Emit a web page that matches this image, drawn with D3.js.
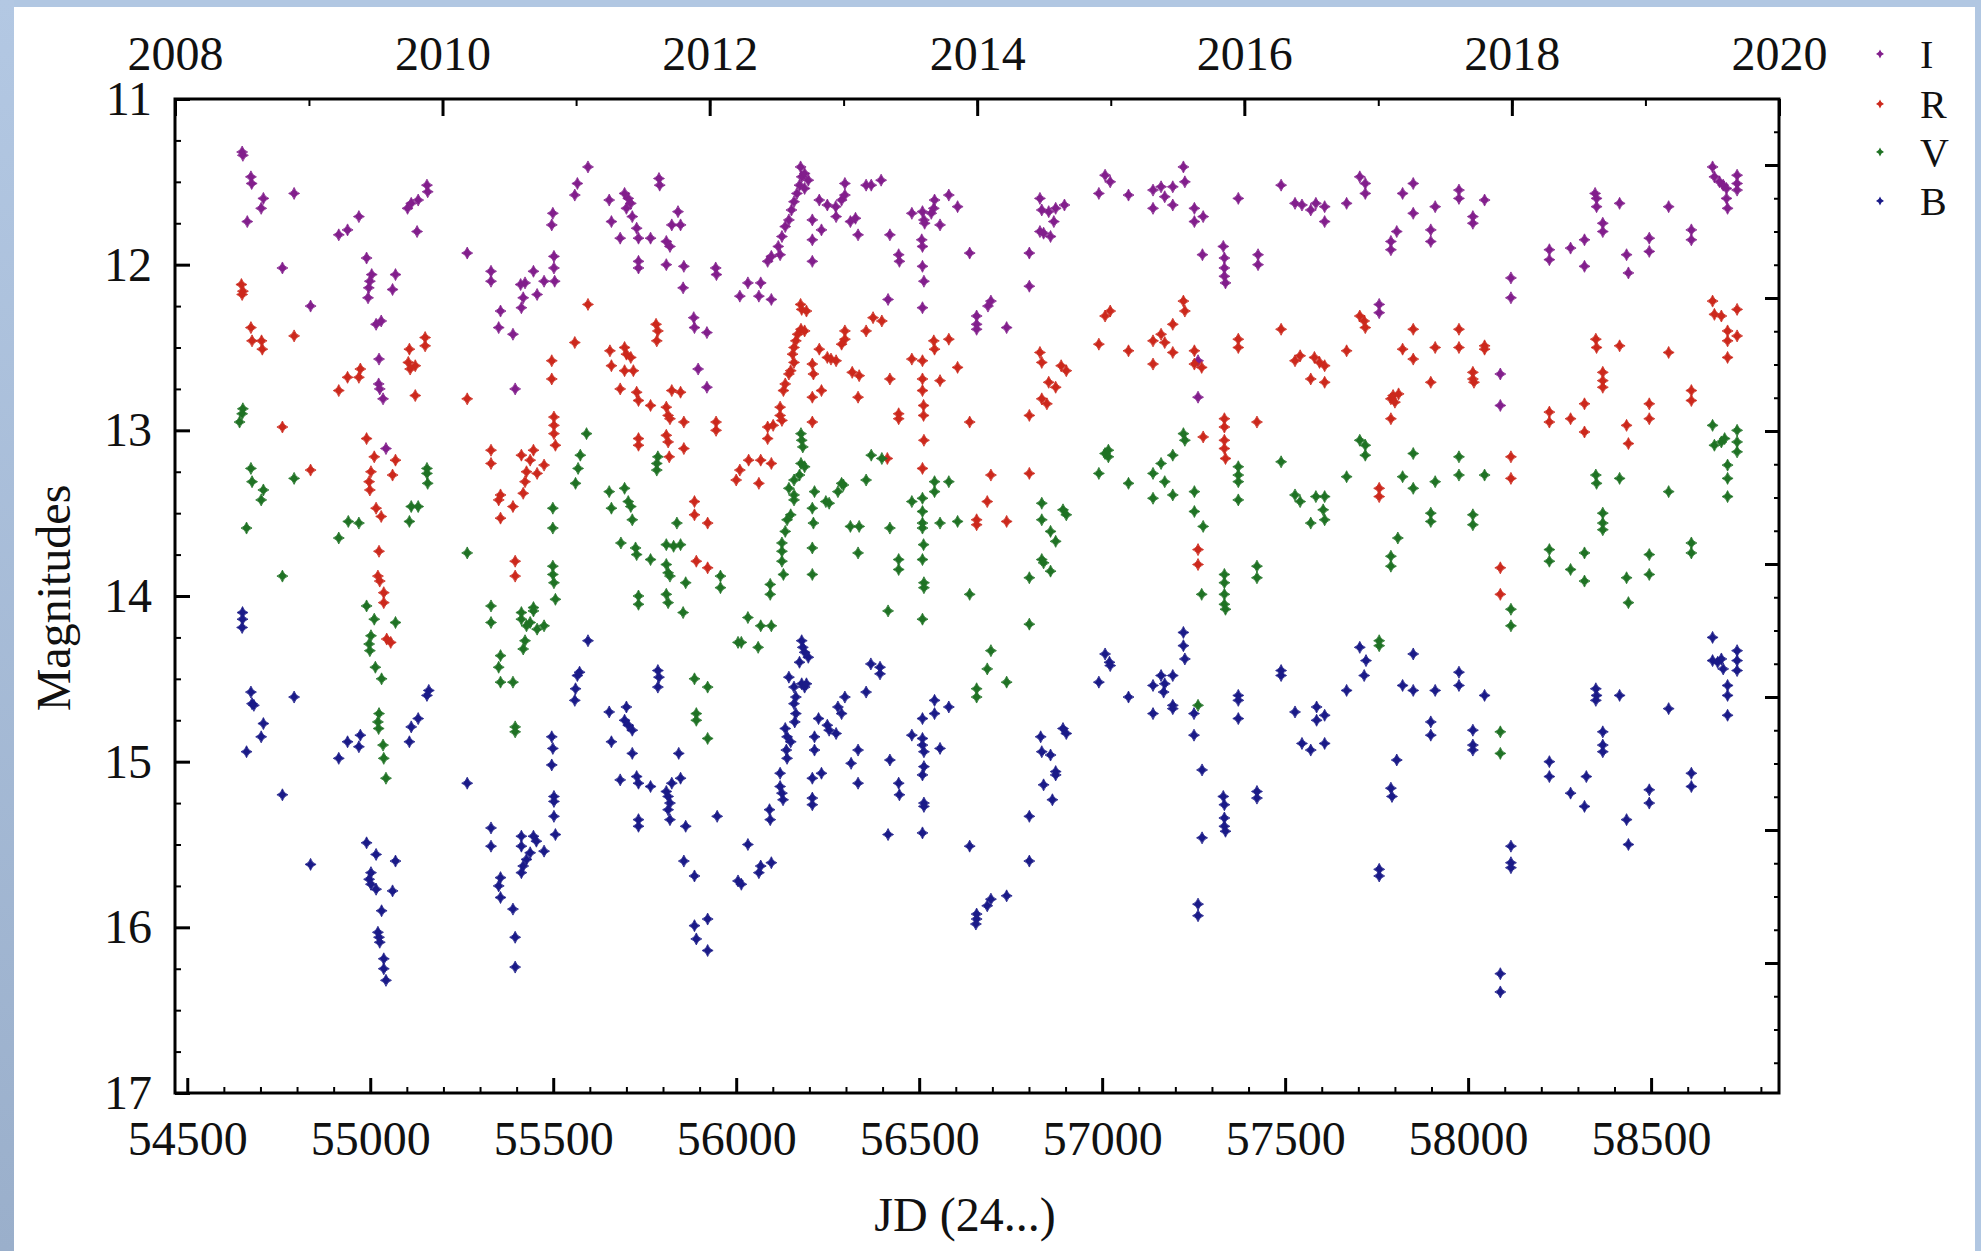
<!DOCTYPE html>
<html>
<head>
<meta charset="utf-8">
<script src="https://cdn.jsdelivr.net/npm/d3@7/dist/d3.min.js"></script>
<style>
  body { margin: 0; background: #b1c7e2; }
  svg { display: block; }
  text { font-family: "Liberation Serif", "DejaVu Serif", serif; fill: #111; }
</style>
</head>
<body>
<svg id="chart" width="1981" height="1251"></svg>
<script>
// Light curves, JD - 2400000 against magnitude, one array of [jd, mag] per band

var bandI = [
  [54650,11.32],[54652,11.34],[54674,11.47],[54676,11.51],[54708,11.60],[54702,11.66],[54664,11.74],[54792,11.57],[54760,12.02],[54837,12.25],
  [54914,11.82],[54938,11.79],[54969,11.71],[54990,11.96],[55004,12.06],[54999,12.10],[54996,12.14],[54994,12.20],[55069,12.06],[55061,12.15],
  [55016,12.36],[55030,12.34],[55024,12.57],[55023,12.72],[55026,12.75],[55035,12.81],[55043,13.11],
  [55102,11.66],[55112,11.63],[55131,11.61],[55157,11.56],[55155,11.52],[55128,11.80],[55265,11.93],[55330,12.04],[55330,12.10],
  [55356,12.28],[55351,12.38],[55390,12.42],[55396,12.75],
  [55411,12.12],[55423,12.11],[55446,12.04],[55418,12.20],[55413,12.26],[55456,12.18],[55475,12.10],[55504,12.10],
  [55499,11.69],[55496,11.76],[55502,11.95],[55502,12.02],[55559,11.58],[55566,11.51],[55595,11.41],
  [55653,11.61],[55659,11.74],[55695,11.57],[55705,11.60],[55712,11.63],[55700,11.66],
  [55683,11.84],[55716,11.71],[55728,11.78],[55733,11.84],[55733,11.98],[55733,12.02],[55766,11.84],
  [55789,11.48],[55791,11.52],[55809,11.86],[55819,11.89],[55809,12.00],[55824,11.76],[55848,11.76],[55841,11.68],
  [55857,12.01],[55855,12.14],[55884,12.32],[55886,12.38],[55920,12.41],[55896,12.63],[55920,12.74],[55944,12.02],[55946,12.06],
  [56032,12.11],[56067,12.11],[56010,12.19],[56062,12.19],[56096,12.21],
  [56086,11.98],[56096,11.95],[56120,11.94],[56115,11.89],[56125,11.83],[56134,11.77],[56144,11.73],[56151,11.67],[56158,11.62],
  [56166,11.57],[56173,11.52],[56179,11.47],[56176,11.41],[56187,11.45],[56197,11.49],[56187,11.54],
  [56208,11.73],[56208,11.85],[56208,11.98],[56233,11.79],[56227,11.61],[56249,11.64],[56272,11.65],[56273,11.71],[56288,11.61],
  [56297,11.51],[56297,11.58],[56312,11.74],[56326,11.72],[56333,11.82],[56355,11.52],[56369,11.52],[56396,11.49],
  [56420,11.82],[56444,11.94],[56446,11.98],[56415,12.21],
  [56480,11.69],[56509,11.68],[56513,11.73],[56515,11.75],[56542,11.61],[56540,11.66],[56533,11.69],[56557,11.76],[56581,11.58],[56605,11.65],
  [56507,11.85],[56509,11.89],[56509,12.01],[56513,12.10],[56509,12.26],
  [56638,11.93],[56657,12.31],[56657,12.36],[56657,12.39],[56688,12.25],[56696,12.22],[56739,12.38],[56801,11.93],[56801,12.13],
  [56830,11.60],[56835,11.67],[56854,11.68],[56873,11.66],[56897,11.64],[56868,11.74],[56830,11.80],[56840,11.81],[56859,11.83],
  [56991,11.57],[57008,11.46],[57022,11.50],[57072,11.58],
  [57139,11.55],[57139,11.66],[57161,11.53],[57171,11.59],[57193,11.53],[57193,11.64],[57222,11.41],[57226,11.50],[57252,11.66],
  [57252,11.74],[57276,11.71],[57274,11.94],[57331,11.89],[57334,11.96],[57334,12.02],[57334,12.07],[57337,12.11],[57372,11.60],
  [57262,12.80],[57262,12.58],[57426,11.94],[57426,12.00],
  [57489,11.52],[57527,11.63],[57546,11.64],[57570,11.67],[57584,11.63],[57608,11.65],[57608,11.74],[57668,11.63],
  [57704,11.47],[57719,11.51],[57719,11.57],[57789,11.86],[57789,11.91],[57805,11.80],
  [57821,11.57],[57850,11.51],[57850,11.69],[57898,11.79],[57898,11.86],[57910,11.65],
  [57975,11.55],[57975,11.60],[58013,11.71],[58013,11.75],[58045,11.61],[58117,12.08],[58117,12.20],
  [58222,11.91],[58222,11.97],[58280,11.90],[58318,11.85],[58318,12.01],
  [58347,11.57],[58351,11.60],[58351,11.65],[58368,11.75],[58368,11.80],[58414,11.63],
  [58433,11.94],[58438,12.05],[58495,11.84],[58495,11.92],[58548,11.65],[58610,11.79],[58610,11.85],
  [58668,11.41],[58673,11.47],[58687,11.50],[58697,11.52],[58706,11.54],[58706,11.60],[58709,11.66],[58735,11.46],[58735,11.51],[58735,11.55],
  [57757,12.24],[57757,12.29],[58088,12.66],[58088,12.85]
];

var bandR = [
  [54648,12.12],[54652,12.16],[54650,12.18],[54674,12.38],[54677,12.46],[54703,12.46],[54705,12.51],[54792,12.43],[54760,12.98],[54837,13.24],
  [54914,12.76],[54938,12.68],[54969,12.68],[54973,12.63],[54990,13.05],
  [55011,13.16],[55002,13.25],[54997,13.31],[54999,13.36],[55016,13.47],[55030,13.52],[55024,13.73],[55021,13.88],[55026,13.91],[55037,13.98],
  [55037,14.04],[55045,14.26],[55056,14.28],[55069,13.18],[55061,13.27],
  [55107,12.51],[55104,12.59],[55123,12.61],[55109,12.63],[55123,12.79],[55150,12.44],[55150,12.49],
  [55265,12.81],[55330,13.12],[55330,13.20],[55356,13.39],[55351,13.42],[55356,13.53],[55390,13.46],[55396,13.79],[55396,13.88],
  [55413,13.15],[55437,13.18],[55446,13.12],[55427,13.25],[55423,13.31],[55418,13.38],[55456,13.26],[55475,13.21],
  [55496,12.58],[55496,12.69],[55502,12.92],[55502,12.97],[55502,13.02],[55506,13.09],[55559,12.47],[55595,12.24],
  [55655,12.52],[55659,12.61],[55695,12.50],[55700,12.54],[55712,12.56],[55695,12.64],[55719,12.64],[55683,12.75],
  [55728,12.77],[55733,12.82],[55766,12.85],[55781,12.36],[55786,12.40],[55783,12.46],
  [55809,12.86],[55814,12.91],[55819,12.93],[55824,12.76],[55848,12.77],
  [55733,13.05],[55733,13.09],[55809,13.03],[55814,13.07],[55817,13.16],[55857,12.95],[55857,13.11],
  [55886,13.43],[55886,13.51],[55922,13.56],[55891,13.79],[55922,13.83],[55945,12.95],[55945,13.00],
  [56010,13.24],[56000,13.30],[56034,13.18],[56067,13.18],[56096,13.20],[56062,13.32],
  [56086,12.98],[56086,13.05],[56101,12.97],[56120,12.86],[56120,12.91],[56125,12.94],
  [56129,12.76],[56134,12.72],[56144,12.66],[56149,12.64],
  [56154,12.54],[56158,12.50],[56163,12.46],[56168,12.42],[56177,12.39],[56187,12.40],[56158,12.59],
  [56176,12.24],[56179,12.27],[56192,12.28],
  [56208,12.60],[56211,12.66],[56208,12.80],[56208,12.95],[56233,12.76],[56227,12.51],
  [56249,12.56],[56259,12.57],[56273,12.58],[56288,12.48],[56297,12.45],[56297,12.40],
  [56317,12.65],[56336,12.67],[56333,12.80],[56355,12.40],[56374,12.32],[56398,12.34],
  [56420,12.69],[56444,12.90],[56444,12.93],[56413,13.17],
  [56480,12.57],[56509,12.58],[56540,12.46],[56542,12.51],[56581,12.45],[56605,12.62],[56557,12.70],
  [56509,12.69],[56509,12.76],[56512,12.85],[56512,12.91],[56513,13.06],[56509,13.23],
  [56638,12.95],[56696,13.27],[56686,13.43],[56657,13.54],[56657,13.57],[56739,13.55],[56801,13.26],[56801,12.91],
  [56830,12.53],[56835,12.59],[56888,12.61],[56902,12.64],[56854,12.71],[56873,12.74],[56835,12.81],[56849,12.84],
  [56991,12.48],[57008,12.31],[57022,12.28],[57072,12.52],
  [57139,12.46],[57139,12.60],[57161,12.42],[57171,12.47],[57193,12.36],[57193,12.53],[57222,12.22],[57226,12.28],
  [57252,12.52],[57252,12.60],[57272,12.62],[57372,12.45],[57372,12.50],
  [57334,12.93],[57334,12.98],[57334,13.06],[57334,13.11],[57337,13.17],[57276,13.04],[57262,13.72],[57262,13.81],[57423,12.95],
  [57489,12.39],[57527,12.58],[57541,12.55],[57580,12.56],[57594,12.59],[57608,12.61],[57570,12.69],[57608,12.71],
  [57668,12.52],[57704,12.31],[57716,12.34],[57719,12.38],
  [57789,12.81],[57795,12.79],[57800,12.83],[57810,12.78],[57789,12.93],
  [57821,12.51],[57850,12.39],[57850,12.57],[57898,12.71],[57910,12.50],
  [57975,12.39],[57975,12.50],[58045,12.49],[58045,12.51],[58013,12.65],[58013,12.69],[58016,12.71],
  [58117,13.16],[58117,13.29],[57757,13.35],[57757,13.40],[58088,13.83],[58088,13.99],
  [58222,12.89],[58222,12.95],[58280,12.93],[58318,12.84],[58318,13.01],
  [58349,12.45],[58351,12.50],[58368,12.65],[58368,12.70],[58368,12.74],[58414,12.49],
  [58433,12.97],[58438,13.08],[58495,12.84],[58495,12.93],[58548,12.53],[58610,12.76],[58610,12.82],
  [58668,12.22],[58673,12.30],[58692,12.31],[58735,12.27],[58709,12.40],[58735,12.43],[58709,12.46],[58709,12.56]
];

var bandV = [
  [54652,12.87],[54650,12.90],[54643,12.95],[54674,13.23],[54677,13.31],[54708,13.36],[54702,13.42],[54792,13.29],[54662,13.59],[54760,13.88],
  [54914,13.65],[54940,13.55],[54969,13.56],
  [55107,13.55],[55112,13.46],[55131,13.46],[55155,13.23],[55155,13.26],[55157,13.32],[55265,13.74],
  [55499,13.47],[55499,13.59],[55499,13.82],[55499,13.87],[55502,13.92],
  [55561,13.32],[55568,13.23],[55574,13.15],[55591,13.02],
  [55653,13.37],[55659,13.47],[55695,13.35],[55705,13.43],[55712,13.46],[55716,13.54],
  [55685,13.68],[55725,13.71],[55728,13.75],[55766,13.78],[55786,13.16],[55783,13.20],[55783,13.24],
  [55809,13.69],[55829,13.70],[55848,13.69],[55809,13.81],[55814,13.86],[55819,13.88],[55838,13.56],[55862,13.92],
  [54990,14.06],[55011,14.14],[55002,14.24],[54997,14.29],[54999,14.33],[55069,14.16],[55014,14.43],[55031,14.50],
  [55024,14.71],[55021,14.76],[55023,14.80],[55035,14.90],[55037,14.98],[55043,15.10],
  [55330,14.06],[55330,14.16],
  [55413,14.10],[55413,14.14],[55446,14.07],[55446,14.09],[55437,14.16],[55427,14.18],[55456,14.20],[55475,14.18],[55423,14.27],[55418,14.32],
  [55356,14.36],[55351,14.43],[55356,14.52],[55390,14.52],[55396,14.79],[55396,14.82],[55506,14.02],
  [55733,14.00],[55733,14.05],[55809,13.99],[55814,14.04],[55855,14.10],
  [55886,14.50],[55922,14.55],[55891,14.71],[55891,14.75],[55922,14.86],[55957,13.88],[55957,13.95],
  [56177,13.02],[56179,13.06],[56182,13.10],[56177,13.20],[56187,13.22],[56173,13.27],[56158,13.30],[56144,13.35],[56158,13.39],[56158,13.42],
  [56149,13.51],[56139,13.54],[56134,13.61],[56125,13.68],[56125,13.73],[56125,13.79],[56129,13.87],[56093,13.93],[56093,13.99],
  [56214,13.37],[56208,13.47],[56211,13.56],[56208,13.71],[56208,13.87],
  [56245,13.43],[56254,13.44],[56278,13.37],[56293,13.33],[56288,13.32],
  [56312,13.58],[56336,13.58],[56333,13.74],[56355,13.30],[56369,13.15],[56398,13.17],[56420,13.59],[56444,13.78],[56444,13.84],
  [56480,13.43],[56509,13.41],[56509,13.49],[56509,13.56],[56509,13.59],[56512,13.69],[56509,13.78],[56513,13.92],[56513,13.95],
  [56542,13.37],[56542,13.31],[56557,13.56],[56581,13.31],[56605,13.55],[56638,13.99],[56801,13.89],
  [56835,13.44],[56835,13.54],[56859,13.61],[56873,13.67],[56893,13.48],[56902,13.51],[56835,13.78],[56840,13.80],[56859,13.85],
  [56991,13.26],[57008,13.14],[57017,13.12],[57017,13.16],[57072,13.32],
  [57139,13.26],[57139,13.41],[57161,13.20],[57171,13.31],[57193,13.15],[57193,13.39],[57222,13.02],[57226,13.06],
  [57252,13.37],[57252,13.49],[57276,13.58],[57372,13.22],[57372,13.27],[57372,13.31],[57372,13.42],
  [57334,13.87],[57334,13.92],[57334,13.99],[57423,13.82],[57423,13.89],[57272,13.99],
  [56032,14.13],[56067,14.18],[56096,14.18],[56005,14.28],[56014,14.28],[56060,14.31],
  [56415,14.09],[56509,14.14],[56696,14.33],[56686,14.44],[56657,14.56],[56657,14.61],[56739,14.52],[56801,14.17],
  [57334,14.05],[57337,14.08],[57262,14.66],
  [57489,13.19],[57527,13.39],[57541,13.43],[57584,13.40],[57608,13.40],[57604,13.48],[57608,13.54],[57570,13.56],
  [57668,13.28],[57704,13.06],[57719,13.09],[57719,13.15],[57808,13.65],[57789,13.76],[57789,13.82],
  [57821,13.28],[57850,13.14],[57850,13.35],[57898,13.50],[57898,13.55],[57910,13.31],
  [57975,13.16],[57975,13.27],[58045,13.27],[58013,13.51],[58013,13.57],
  [58222,13.72],[58222,13.79],[58280,13.84],[58318,13.74],[58318,13.91],
  [58349,13.27],[58351,13.32],[58414,13.29],[58368,13.50],[58368,13.56],[58368,13.60],
  [58433,13.89],[58495,13.75],[58495,13.87],[58548,13.37],[58610,13.68],[58610,13.74],
  [58668,12.97],[58673,13.09],[58692,13.07],[58701,13.05],[58735,13.00],[58735,13.07],[58735,13.13],[58709,13.21],[58709,13.29],[58709,13.40],
  [57757,14.27],[57757,14.30],[58117,14.08],[58117,14.18],[58088,14.82],[58088,14.95],[58438,14.04]
];

var bandB = [
  [54651,14.10],[54651,14.14],[54650,14.19],[54674,14.58],[54677,14.65],[54682,14.66],[54708,14.77],[54702,14.85],[54662,14.94],
  [54792,14.61],[54760,15.20],[54837,15.62],[54914,14.98],[54938,14.88],[54969,14.91],[54973,14.84],
  [54990,15.49],[55016,15.56],[55069,15.60],[55002,15.67],[54997,15.71],[55002,15.74],[55016,15.77],[55061,15.78],
  [55031,15.90],[55021,16.03],[55024,16.06],[55026,16.09],[55037,16.19],[55037,16.25],[55043,16.32],
  [55107,14.88],[55112,14.79],[55131,14.74],[55160,14.57],[55155,14.60],[55265,15.13],[55330,15.40],[55330,15.51],
  [55356,15.70],[55351,15.75],[55356,15.82],[55390,15.89],[55396,16.06],[55396,16.24],
  [55413,15.45],[55413,15.51],[55446,15.45],[55454,15.48],[55475,15.54],[55437,15.55],[55427,15.59],[55418,15.63],[55413,15.67],
  [55496,14.85],[55499,14.92],[55496,15.02],[55502,15.21],[55502,15.24],[55502,15.33],[55506,15.44],
  [55559,14.63],[55561,14.56],[55566,14.48],[55572,14.46],[55595,14.27],
  [55653,14.70],[55659,14.88],[55700,14.67],[55695,14.75],[55705,14.78],[55716,14.81],[55716,14.95],
  [55683,15.11],[55728,15.09],[55733,15.13],[55766,15.15],[55733,15.35],[55733,15.39],[55786,14.45],[55789,14.49],[55786,14.55],
  [55809,15.18],[55814,15.21],[55819,15.25],[55814,15.29],[55819,15.35],[55824,15.13],[55848,15.10],[55843,14.95],
  [55862,15.39],[55857,15.60],[55886,15.69],[55886,15.99],[55891,16.07],[55922,15.95],[55922,16.14],[55948,15.33],
  [56032,15.50],[56067,15.63],[56062,15.67],[56096,15.61],[56005,15.72],[56014,15.74],
  [56091,15.29],[56093,15.35],[56120,15.07],[56120,15.15],[56125,15.19],[56128,15.23],
  [56134,14.80],[56139,14.85],[56149,14.88],[56137,14.93],[56139,14.98],[56144,14.49],
  [56158,14.55],[56163,14.61],[56158,14.65],[56163,14.71],[56160,14.76],[56173,14.40],[56179,14.53],[56187,14.55],[56192,14.53],
  [56179,14.27],[56182,14.31],[56187,14.34],[56197,14.37],
  [56214,14.85],[56214,14.93],[56208,15.10],[56233,15.07],[56208,15.22],[56208,15.26],
  [56225,14.74],[56249,14.78],[56254,14.81],[56273,14.83],[56278,14.67],[56288,14.71],[56297,14.61],
  [56314,15.01],[56333,14.93],[56333,15.13],[56355,14.58],[56368,14.41],[56393,14.43],[56393,14.47],
  [56420,14.99],[56444,15.13],[56446,15.20],[56415,15.44],
  [56480,14.84],[56509,14.74],[56509,14.86],[56509,14.90],[56513,14.94],[56513,15.03],[56509,15.08],[56513,15.25],[56513,15.27],
  [56509,15.43],[56542,14.63],[56542,14.71],[56581,14.67],[56557,14.92],[56638,15.51],
  [56657,15.92],[56657,15.95],[56655,15.98],[56686,15.87],[56696,15.83],[56739,15.81],[56801,15.33],[56801,15.60],
  [56832,14.85],[56835,14.94],[56859,14.96],[56873,15.06],[56873,15.08],[56840,15.14],[56864,15.23],[56893,14.80],[56902,14.83],
  [56991,14.52],[57008,14.35],[57020,14.40],[57022,14.42],[57072,14.61],
  [57139,14.54],[57139,14.71],[57161,14.48],[57171,14.53],[57168,14.58],[57193,14.48],[57193,14.66],[57193,14.68],
  [57222,14.22],[57222,14.30],[57226,14.38],[57251,14.71],[57251,14.84],[57273,15.05],[57273,15.46],[57262,15.86],[57262,15.93],
  [57372,14.60],[57372,14.63],[57372,14.74],[57331,15.21],[57334,15.26],[57334,15.34],[57334,15.39],[57337,15.42],
  [57423,15.18],[57423,15.22],
  [57489,14.45],[57489,14.48],[57527,14.70],[57586,14.67],[57586,14.75],[57608,14.72],[57546,14.89],[57570,14.93],[57608,14.89],
  [57668,14.57],[57704,14.31],[57721,14.39],[57716,14.48],[57805,14.99],[57789,15.16],[57792,15.21],
  [57821,14.54],[57850,14.35],[57850,14.57],[57898,14.76],[57898,14.84],[57910,14.57],
  [57975,14.46],[57975,14.54],[58045,14.60],[58013,14.81],[58013,14.90],[58013,14.93],
  [58117,15.51],[58117,15.61],[58117,15.64],[57757,15.65],[57757,15.69],[58088,16.28],[58088,16.39],
  [58222,15.00],[58222,15.09],[58280,15.19],[58323,15.09],[58318,15.27],
  [58349,14.56],[58351,14.60],[58349,14.63],[58414,14.60],[58368,14.82],[58368,14.90],[58368,14.94],
  [58433,15.35],[58438,15.50],[58495,15.17],[58495,15.25],[58548,14.68],[58610,15.07],[58610,15.15],
  [58668,14.25],[58668,14.39],[58682,14.40],[58692,14.38],[58697,14.44],[58735,14.33],[58735,14.39],[58735,14.45],
  [58709,14.54],[58709,14.60],[58709,14.72]
];

var bandNames = ["I", "R", "V", "B"];
var bandColours = ["#821e8c", "#cc281c", "#1f7224", "#1a1a88"];

var jdTicksMajor = [54500, 55000, 55500, 56000, 56500, 57000, 57500, 58000, 58500];
var magTicksMajor = [11, 12, 13, 14, 15, 16, 17];

// plot frame in page pixels
var frame = {left: 175, right: 1779, top: 99, bottom: 1093};

var svg = d3.select("#chart");

// light blue surround, white page
var grad = svg.append("defs").append("linearGradient")
  .attr("id", "leftBand").attr("x1", 0).attr("y1", 0).attr("x2", 0).attr("y2", 1);
grad.append("stop").attr("offset", "0%").attr("stop-color", "#b3c8e3");
grad.append("stop").attr("offset", "100%").attr("stop-color", "#9aafcb");

svg.append("rect").attr("width", 1981).attr("height", 1251).attr("fill", "#b1c7e2");
svg.append("rect").attr("x", 0).attr("width", 14).attr("height", 1251).attr("fill", "url(#leftBand)");
svg.append("rect").attr("x", 14).attr("y", 7).attr("width", 1961).attr("height", 1244).attr("fill", "#ffffff");

var x = d3.scaleLinear().domain([54466.5, 58849.5]).range([frame.left, frame.right]);
var xYear = d3.scaleUtc().domain([new Date(Date.UTC(2008, 0, 1)), new Date(Date.UTC(2020, 0, 1))]).range([frame.left, frame.right]);
var y = d3.scaleLinear().domain([11, 17]).range([frame.top, frame.bottom]);
// unlabelled scale on the right frame edge
var yRight = d3.scaleLinear().domain([0, 6]).range([165, 963]);

function styleAxis(g, width) {
  g.select(".domain").remove();
  g.selectAll(".tick line").attr("stroke", "#000").attr("stroke-width", width);
  g.selectAll(".tick text")
    .style("font-family", "'Liberation Serif', serif")
    .style("font-size", "48px")
    .attr("fill", "#111");
}

// bottom, JD
svg.append("g").attr("transform", "translate(0," + frame.bottom + ")")
  .call(d3.axisBottom(x).tickValues(d3.range(54500, 58801, 100).filter(function(d) { return d % 500 != 0 }))
    .tickSize(-6).tickFormat(""))
  .call(styleAxis, 2);
svg.append("g").attr("transform", "translate(0," + frame.bottom + ")")
  .call(d3.axisBottom(x).tickValues(jdTicksMajor).tickSize(-15).tickPadding(28).tickFormat(d3.format("d")))
  .call(styleAxis, 3);

// top, calendar years
svg.append("g").attr("transform", "translate(0," + frame.top + ")")
  .call(d3.axisTop(xYear).ticks(d3.utcYear.every(1)).tickSize(-7).tickFormat(""))
  .call(styleAxis, 2);
svg.append("g").attr("transform", "translate(0," + frame.top + ")")
  .call(d3.axisTop(xYear).ticks(d3.utcYear.every(2)).tickSize(-17).tickPadding(29).tickFormat(d3.utcFormat("%Y")))
  .call(styleAxis, 3);

// left, magnitudes
svg.append("g").attr("transform", "translate(" + frame.left + ",0)")
  .call(d3.axisLeft(y).tickValues(d3.range(11, 17, 0.25).filter(function(d) { return d % 1 != 0 }))
    .tickSize(-6).tickFormat(""))
  .call(styleAxis, 2);
svg.append("g").attr("transform", "translate(" + frame.left + ",0)")
  .call(d3.axisLeft(y).tickValues(magTicksMajor).tickSize(-15).tickPadding(23).tickFormat(d3.format("d")))
  .call(styleAxis, 3);

// right edge ticks
svg.append("g").attr("transform", "translate(" + frame.right + ",0)")
  .call(d3.axisRight(yRight).tickValues(d3.range(-0.25, 7, 0.25).filter(function(d) { return d % 1 != 0 }))
    .tickSize(-5).tickFormat(""))
  .call(styleAxis, 2);
svg.append("g").attr("transform", "translate(" + frame.right + ",0)")
  .call(d3.axisRight(yRight).tickValues(d3.range(0, 7)).tickSize(-14).tickFormat(""))
  .call(styleAxis, 3);

svg.append("rect")
  .attr("x", frame.left).attr("y", frame.top)
  .attr("width", frame.right - frame.left).attr("height", frame.bottom - frame.top)
  .attr("fill", "none").attr("stroke", "#000").attr("stroke-width", 3);

// diamond markers with slightly pinched sides
function diamond(w, h) {
  var a = w / 2, b = h / 2, c = w * 0.12;
  return "M0," + (-b) + "Q" + c + "," + (-c) + " " + a + ",0" +
         "Q" + c + "," + c + " 0," + b +
         "Q" + (-c) + "," + c + " " + (-a) + ",0" +
         "Q" + (-c) + "," + (-c) + " 0," + (-b) + "Z";
}

var bands = [bandI, bandR, bandV, bandB];
var pointsLayer = svg.append("g");

bands.forEach(function(band, i) {
  pointsLayer.selectAll(".pt" + i)
    .data(band)
    .enter()
    .append("path")
      .attr("class", "pt" + i)
      .attr("d", diamond(11, 12))
      .attr("transform", function(d) { return "translate(" + x(d[0]) + "," + y(d[1]) + ")" })
      .attr("fill", bandColours[i])
      .attr("stroke", bandColours[i])
      .attr("stroke-width", 0.8);
});

// axis titles
svg.append("text")
  .attr("x", (frame.left + frame.right) / 2 - 12)
  .attr("y", 1231)
  .attr("text-anchor", "middle")
  .style("font-size", "48px")
  .text("JD (24...)");

svg.append("text")
  .attr("transform", "translate(70," + 598 + ") rotate(-90)")
  .attr("text-anchor", "middle")
  .style("font-size", "48px")
  .text("Magnitudes");

// legend
var legendY = [54, 104, 152, 201];
var legend = svg.append("g");
bandNames.forEach(function(name, i) {
  legend.append("path")
    .attr("d", diamond(8, 9))
    .attr("transform", "translate(1880," + legendY[i] + ")")
    .attr("fill", bandColours[i]);
  legend.append("text")
    .attr("x", 1920)
    .attr("y", legendY[i])
    .attr("dy", "0.35em")
    .style("font-size", "40px")
    .text(name);
});
</script>
</body>
</html>
